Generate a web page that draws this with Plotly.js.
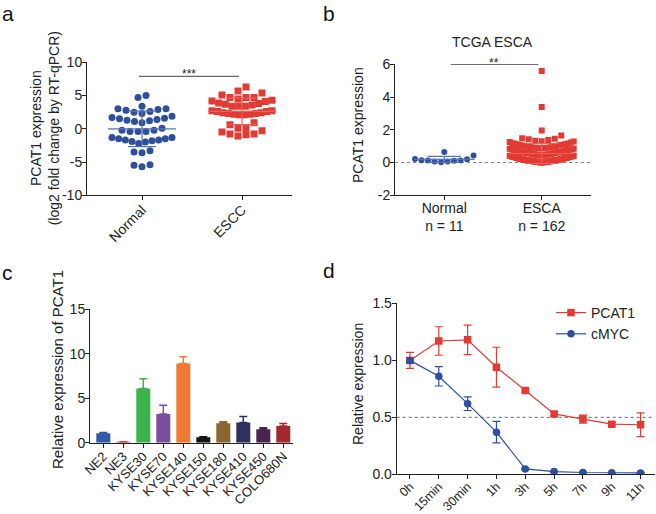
<!DOCTYPE html>
<html>
<head>
<meta charset="utf-8">
<script src="https://cdn.plot.ly/plotly-3.0.1.min.js"></script>
<style>
  body { margin: 0; background: #fff; }
  #chart { width: 656px; height: 514px; }
</style>
</head>
<body>
<div id="chart"></div>
<script>
// ---- panel a: RT-qPCR, log2 fold change
var aGroups = ['Normal', 'ESCC'];
var aNormal = [5.0, 4.7, 3.4, 3.0, 2.8, 2.5, 2.3, 2.6, 2.9, 3.0,
  1.9, 1.6, 1.4, 1.3, 1.1, 0.9, 1.2, 1.5, 1.7, 0.1,
  -0.2, -0.4, -0.4, -0.4, -0.2, -1.3, -1.5, -1.7, -1.8, -1.7,
  -1.5, -1.3, -2.0, -2.2, -1.9, -3.6, -3.5, -3.3, -5.4, -5.7, -5.5];
var aEscc = [6.3, 5.7, 5.4, 5.1, 4.7, 4.7,
  4.7, 4.3, 4.2, 3.8, 3.6, 3.4, 3.4, 3.4, 3.7, 3.9, 4.1, 4.5,
  2.7, 2.6, 2.4, 2.3, 2.2, 2.1, 2.1, 2.2, 2.3, 2.4, 2.6, 2.7,
  0.9, 0.6, 0.1, 0.1,
  -0.3, -0.5, -0.8, -1.1, -0.9, -0.8];

// ---- panel b: TCGA ESCA
var bGroups = ['Normal<br>n = 11', 'ESCA<br>n = 162'];
var bNormal = [0.22, 0.14, 0.12, 0.06, 0.02, 0.65, 0.06, 0.1, 0.12, 0.2, 0.43];
var bEsca = [5.6, 3.4, 1.95, 1.65,
  1.45, 1.42, 1.48,
  1.38, 1.33, 1.28, 1.25, 1.22, 1.3,
  1.18, 1.15, 1.12, 1.1, 1.08, 1.05, 1.02, 1.0, 1.16, 1.06,
  0.98, 0.96, 0.95, 0.93, 0.92, 0.9, 0.88, 0.87, 0.86, 0.85, 0.84, 0.83, 0.82, 0.81, 0.8, 0.91,
  0.79, 0.77, 0.77, 0.75, 0.74, 0.72, 0.72, 0.71, 0.69, 0.68,
  0.68, 0.66, 0.65, 0.65, 0.64, 0.63, 0.62, 0.61, 0.61, 0.6,
  0.59, 0.58, 0.58, 0.57, 0.55, 0.55, 0.54, 0.53, 0.52, 0.52,
  0.51, 0.5, 0.49, 0.48, 0.48, 0.47, 0.46, 0.45, 0.45, 0.44,
  0.43, 0.42, 0.42, 0.41, 0.4,
  0.39, 0.39, 0.38, 0.37, 0.37, 0.36, 0.35, 0.34, 0.34, 0.33,
  0.32, 0.32, 0.31, 0.3, 0.3, 0.29, 0.28, 0.28, 0.27, 0.26,
  0.26, 0.25, 0.24, 0.24, 0.23, 0.22, 0.22, 0.21, 0.21, 0.2,
  0.19, 0.19, 0.18, 0.18, 0.17, 0.17, 0.16, 0.16, 0.15, 0.15,
  0.15, 0.14, 0.14, 0.13, 0.13, 0.12, 0.12, 0.12, 0.11, 0.11,
  0.1, 0.1, 0.1, 0.09, 0.09, 0.08, 0.08, 0.08, 0.07, 0.07,
  0.06, 0.06, 0.06, 0.05, 0.05, 0.05, 0.04, 0.04, 0.04, 0.03,
  0.03, 0.03, 0.02, 0.02, 0.02, 0.01, 0.01, 0.0];

// ---- panel c: cell lines
var cLines = ['NE2', 'NE3', 'KYSE30', 'KYSE70', 'KYSE140', 'KYSE150', 'KYSE180', 'KYSE410', 'KYSE450', 'COLO680N'];
var cValues = [1.05, 0.1, 6.1, 3.22, 8.9, 0.62, 2.2, 2.28, 1.5, 1.87];
var cErrors = [0.1, 0.02, 1.1, 0.98, 0.76, 0.05, 0.16, 0.68, 0.19, 0.3];
var cColors = ['#2f5ca8', '#e0453f', '#3db34b', '#7b4f9f', '#ee7a33', '#141414', '#8c6630', '#2e315f', '#4d2350', '#a2292d'];

// ---- panel d: time course
var dTimes = ['0h', '15min', '30min', '1h', '3h', '5h', '7h', '9h', '11h'];
var dPcat1 = [1.0, 1.17, 1.18, 0.94, 0.735, 0.53, 0.485, 0.44, 0.435];
var dPcat1Err = [0.07, 0.125, 0.13, 0.175, 0.015, 0.02, 0.035, 0.015, 0.105];
var dCmyc = [1.0, 0.86, 0.62, 0.37, 0.047, 0.024, 0.016, 0.013, 0.012];
var dCmycErr = [0.02, 0.085, 0.06, 0.095, 0.008, 0.005, 0.004, 0.003, 0.003];

var W = 656, H = 514;
var font = 'Liberation Sans, Arial, sans-serif';
var ink = '#222';
var blue = '#2d4f9c', red = '#e23b33';

// plot boxes in pixels
var boxA = {l: 87, r: 292, t: 62.3, b: 195.3}, xrA = [-0.55, 1.5], yrA = [-10.01, 10.01];
var boxB = {l: 395, r: 591, t: 64.3, b: 195.3}, xrB = [-0.506, 1.506], yrB = [-2.005, 6.005];
var boxC = {l: 90, r: 293, t: 309.3, b: 442.7}, xrC = [-0.665, 9.485], yrC = [0, 15.01];
var boxD = {l: 396.7, r: 655, t: 303.3, b: 474.3}, xrD = [-0.46, 8.5], yrD = [0, 1.501];

function xdom(b) { return [b.l / W, b.r / W]; }
function ydom(b) { return [1 - b.b / H, 1 - b.t / H]; }
function pxPer(b, xr, yr) {
  return {x: (b.r - b.l) / (xr[1] - xr[0]), y: (b.b - b.t) / (yr[1] - yr[0])};
}
function px(x) { return x / W; }
function py(y) { return 1 - y / H; }

// prism style dot rows: close values share a row, lowest in the middle
function swarmX(vals, center, scale, gap, bin, half) {
  var idx = vals.map(function (v, i) { return i; }).sort(function (i, j) { return vals[i] - vals[j]; });
  var xs = new Array(vals.length);
  var rows = [], cur = [];
  idx.forEach(function (i) {
    if (cur.length && (vals[i] - vals[cur[0]]) * scale.y > bin) { rows.push(cur); cur = []; }
    cur.push(i);
  });
  if (cur.length) rows.push(cur);
  rows.forEach(function (row) {
    var n = row.length;
    var step = n > 1 ? Math.min(gap, 2 * half / (n - 1)) : 0;
    var slots = [];
    for (var k = 0; k < n; k++) slots.push((k - (n - 1) / 2) * step);
    slots.sort(function (p, q) { return Math.abs(p) - Math.abs(q); });
    row.forEach(function (i, k) { xs[i] = center + slots[k] / scale.x; });
  });
  return xs;
}

function meanSd(v) {
  var m = v.reduce(function (s, a) { return s + a; }, 0) / v.length;
  var sd = Math.sqrt(v.reduce(function (s, a) { return s + (a - m) * (a - m); }, 0) / (v.length - 1));
  return [m, sd];
}

function summaryTrace(vals, c, mw, cw, color, xa, ya) {
  var ms = meanSd(vals), m = ms[0], s = ms[1];
  return {
    type: 'scatter', mode: 'lines',
    x: [c - mw, c + mw, null, c, c, null, c - cw, c + cw, null, c - cw, c + cw],
    y: [m, m, null, m - s, m + s, null, m + s, m + s, null, m - s, m - s],
    line: {color: color, width: 1.2},
    xaxis: xa, yaxis: ya, showlegend: false, hoverinfo: 'skip'
  };
}

function dots(vals, c, scale, opts, symbol, color, xa, ya) {
  return {
    type: 'scatter', mode: 'markers',
    x: swarmX(vals, c, scale, opts.gap, opts.bin, opts.half), y: vals,
    marker: {symbol: symbol, size: opts.size, color: color},
    xaxis: xa, yaxis: ya, showlegend: false, hoverinfo: 'skip'
  };
}

var sA = pxPer(boxA, xrA, yrA);
var sB = pxPer(boxB, xrB, yrB);
var optA = {gap: 8, bin: 7, half: 30, size: 7};
var optB = {gap: 6.5, bin: 7, half: 32, size: 6};

var traces = [];
// a
traces.push(dots(aNormal, 0, sA, optA, 'circle', blue, 'x', 'y'));
traces.push(dots(aEscc, 1, sA, optA, 'square', red, 'x', 'y'));
traces.push(summaryTrace(aNormal, 0, 0.34, 0.14, '#5674b8', 'x', 'y'));
traces.push(summaryTrace(aEscc, 1, 0.34, 0.14, '#e8605a', 'x', 'y'));
// b
traces.push(dots(bNormal, 0, sB, optB, 'circle', blue, 'x2', 'y2'));
traces.push(dots(bEsca, 1, sB, optB, 'square', red, 'x2', 'y2'));
traces.push(summaryTrace(bNormal, 0, 0.31, 0.17, '#5674b8', 'x2', 'y2'));
traces.push(summaryTrace(bEsca, 1, 0.33, 0.17, '#e8605a', 'x2', 'y2'));
// c
cLines.forEach(function (name, i) {
  traces.push({
    type: 'bar', x: [i], y: [cValues[i]], width: 0.7,
    marker: {color: cColors[i], line: {width: 0}},
    error_y: {type: 'data', symmetric: false, array: [cErrors[i]], arrayminus: [0],
      color: cColors[i], thickness: 1.5, width: 4},
    xaxis: 'x3', yaxis: 'y3', showlegend: false, hoverinfo: 'skip'
  });
});
// d
var dIdx = dTimes.map(function (t, i) { return i; });
traces.push({
  type: 'scatter', mode: 'lines+markers', name: 'PCAT1',
  x: dIdx, y: dPcat1,
  error_y: {type: 'data', array: dPcat1Err, color: red, thickness: 1.2, width: 4},
  line: {color: red, width: 1.2},
  marker: {symbol: 'square', size: 7.5, color: red},
  xaxis: 'x4', yaxis: 'y4'
});
traces.push({
  type: 'scatter', mode: 'lines+markers', name: 'cMYC',
  x: dIdx, y: dCmyc,
  error_y: {type: 'data', array: dCmycErr, color: blue, thickness: 1.2, width: 4},
  line: {color: blue, width: 1.2},
  marker: {symbol: 'circle', size: 7.5, color: blue},
  xaxis: 'x4', yaxis: 'y4'
});

function axis(extra) {
  var base = {
    showline: true, linecolor: ink, linewidth: 1,
    ticks: 'outside', ticklen: 4, tickwidth: 1, tickcolor: ink,
    showgrid: false, zeroline: false, fixedrange: true,
    ticklabeloverflow: 'allow',
    tickfont: {family: font, size: 14, color: ink}
  };
  for (var k in extra) base[k] = extra[k];
  return base;
}
var rotFont = {family: font, size: 13, color: ink};

function letter(t, x, y) {
  return {text: t, xref: 'paper', yref: 'paper', x: px(x), y: py(y), xanchor: 'left', yanchor: 'top',
    showarrow: false, font: {family: font, size: 21, color: '#111'}};
}
function ytitle(t, x, y, size) {
  return {text: t, xref: 'paper', yref: 'paper', x: px(x), y: py(y), xanchor: 'center', yanchor: 'middle',
    textangle: -90, showarrow: false, font: {family: font, size: size || 14, color: ink}};
}

var layout = {
  width: W, height: H,
  margin: {l: 0, r: 0, t: 0, b: 0},
  paper_bgcolor: '#fff', plot_bgcolor: 'rgba(0,0,0,0)',
  barmode: 'overlay',
  font: {family: font, size: 14, color: ink},
  xaxis: axis({domain: xdom(boxA), range: xrA, anchor: 'y', tickvals: [0, 1], ticktext: aGroups, tickangle: -45, ticklabelstandoff: -4}),
  yaxis: axis({domain: ydom(boxA), range: yrA, anchor: 'x', tickvals: [-10, -5, 0, 5, 10], ticktext: ['-10', '-5', '0', '5', '10'], ticklabelstandoff: -3}),
  xaxis2: axis({domain: xdom(boxB), range: xrB, anchor: 'y2', tickvals: [0, 1], ticktext: bGroups, tickangle: 0, ticklabelstandoff: -4}),
  yaxis2: axis({domain: ydom(boxB), range: yrB, anchor: 'x2', tickvals: [-2, 0, 2, 4, 6], ticktext: ['-2', '0', '2', '4', '6'], ticklabelstandoff: -3}),
  xaxis3: axis({domain: xdom(boxC), range: xrC, anchor: 'y3', tickvals: dIdx.concat([9]), ticktext: cLines, tickangle: -45, tickfont: rotFont, ticklabelstandoff: -4}),
  yaxis3: axis({domain: ydom(boxC), range: yrC, anchor: 'x3', tickvals: [0, 5, 10, 15], ticklabelstandoff: -3}),
  xaxis4: axis({domain: xdom(boxD), range: xrD, anchor: 'y4', tickvals: dIdx, ticktext: dTimes, tickangle: -45,
    tickfont: {family: font, size: 12.5, color: ink}, ticklabelstandoff: -5}),
  yaxis4: axis({domain: ydom(boxD), range: yrD, anchor: 'x4', tickvals: [0, 0.5, 1, 1.5], tickformat: '.1f', ticklabelstandoff: -3}),
  showlegend: true,
  legend: {x: px(551), y: py(297), xanchor: 'left', yanchor: 'top', bgcolor: 'rgba(0,0,0,0)',
    font: {family: font, size: 14, color: ink}, itemclick: false},
  shapes: [
    {type: 'line', xref: 'x', yref: 'y', x0: -0.03, x1: 0.97, y0: 7.9, y1: 7.9, line: {color: '#444', width: 1}},
    {type: 'line', xref: 'x2', yref: 'y2', x0: 0.066, x1: 0.965, y0: 6.0, y1: 6.0, line: {color: '#222', width: 1}},
    {type: 'line', xref: 'x2 domain', yref: 'y2', x0: 0, x1: 1, y0: 0, y1: 0, line: {color: '#888', width: 1, dash: 'dot'}, layer: 'below'},
    {type: 'line', xref: 'x4 domain', yref: 'y4', x0: 0, x1: 1, y0: 0.5, y1: 0.5, line: {color: '#666', width: 1, dash: 'dot'}, layer: 'below'}
  ],
  annotations: [
    letter('a', 0, 0),
    letter('b', 320.5, 0),
    letter('c', 0, 259),
    letter('d', 320.5, 257),
    ytitle('PCAT1 expression<br>(log2 fold change by RT-qPCR)', 44.5, 128.8),
    ytitle('PCAT1 expression', 358, 125),
    ytitle('Relative expression of PCAT1', 57, 369, 15),
    ytitle('Relative expression', 358, 384),
    {text: 'TCGA ESCA', xref: 'paper', yref: 'paper', x: px(493), y: py(41.7), xanchor: 'center', yanchor: 'middle',
      showarrow: false, font: {family: font, size: 14, color: ink}},
    {text: '***', xref: 'paper', yref: 'paper', x: px(189), y: py(73.7), xanchor: 'center', yanchor: 'middle',
      showarrow: false, font: {family: font, size: 12, color: ink}},
    {text: '**', xref: 'paper', yref: 'paper', x: px(494), y: py(63), xanchor: 'center', yanchor: 'middle',
      showarrow: false, font: {family: font, size: 12, color: ink}}
  ]
};

Plotly.newPlot('chart', traces, layout, {displayModeBar: false, staticPlot: true});
</script>
</body>
</html>
